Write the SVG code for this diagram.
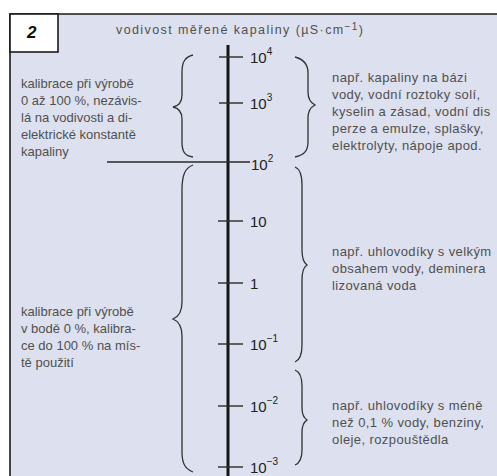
<svg xmlns="http://www.w3.org/2000/svg" width="497" height="476" viewBox="0 0 497 476">
<style>
.bg{fill:#dde0ee}
.frame{fill:none;stroke:#1a1a1a;stroke-width:1.6}
.txt{font-family:"Liberation Sans",Arial,sans-serif;font-size:13px;fill:#505050}
.rt{letter-spacing:0.4px}
.ttl{font-family:"Liberation Sans",Arial,sans-serif;font-size:12.5px;fill:#505050}
.lbl{font-family:"Liberation Sans",Arial,sans-serif;font-size:15px;fill:#222}
.sup{font-size:10px}
.axis{stroke:#151515;stroke-width:3}
.tick{stroke:#2a2a2a;stroke-width:1.4}
.brace{fill:none;stroke:#333;stroke-width:1.3}
</style>
<rect class="bg" x="10" y="14" width="487" height="462"/>
<path class="frame" d="M10,476 V14 H497"/>
<g id="badge">
<rect x="10" y="14" width="48" height="38" fill="#fff" stroke="#1a1a1a" stroke-width="1.6"/>
<text x="27" y="38" font-family="Liberation Sans,Arial,sans-serif" font-size="17" font-weight="bold" font-style="italic" fill="#111">2</text>
</g>
<g id="title"><text class="ttl" x="116" y="34" textLength="247" lengthAdjust="spacing">vodivost měřené kapaliny (µS·cm<tspan class="sup" dy="-4">−1</tspan><tspan dy="4">)</tspan></text></g>
<g id="axis">
<line class="axis" x1="228" y1="45" x2="228" y2="476"/>
<line class="tick" x1="219" y1="57" x2="243" y2="57"/>
<line class="tick" x1="219" y1="103" x2="243" y2="103"/>
<line class="tick" x1="107" y1="162" x2="250" y2="162"/>
<line class="tick" x1="218" y1="221" x2="243" y2="221"/>
<line class="tick" x1="218" y1="283" x2="243" y2="283"/>
<line class="tick" x1="218" y1="344" x2="243" y2="344"/>
<line class="tick" x1="218" y1="406" x2="243" y2="406"/>
<line class="tick" x1="218" y1="467" x2="243" y2="467"/>
<text class="lbl" x="250" y="63">10<tspan class="sup" dy="-8">4</tspan></text>
<text class="lbl" x="250" y="109">10<tspan class="sup" dy="-8">3</tspan></text>
<text class="lbl" x="251" y="170">10<tspan class="sup" dy="-8">2</tspan></text>
<text class="lbl" x="250" y="227">10</text>
<text class="lbl" x="250" y="289">1</text>
<text class="lbl" x="250" y="350">10<tspan class="sup" dy="-8">−1</tspan></text>
<text class="lbl" x="250" y="412">10<tspan class="sup" dy="-8">−2</tspan></text>
<text class="lbl" x="250" y="473">10<tspan class="sup" dy="-8">−3</tspan></text>
</g>
<g id="braces">
<path class="brace" d="M193,55 C185,57 182,62 182,72 L182,95 C182,103 178,106 173,107 C178,108 182,111 182,119 L182,142 C182,152 185,156 193,157"/>
<path class="brace" d="M193,165 C185,168 182,175 182,190 L182,302 C182,313 178,317 173,319 C178,321 182,325 182,336 L182,452 C182,465 186,469 193,472"/>
<path class="brace" d="M295,57 C303,59 308,63 308,73 L308,92 C308,100 311,103 315,105 C311,107 308,110 308,118 L308,142 C308,151 304,155 295,157"/>
<path class="brace" d="M295,167 C300,169 302,175 302,185 L302,250 C302,259 304,263 307,265 C304,267 302,271 302,280 L302,345 C302,355 300,360 295,362"/>
<path class="brace" d="M295,370 C300,372 302,377 302,386 L302,408 C302,415 304,418 307,420 C304,422 302,425 302,432 L302,450 C302,459 300,463 295,465"/>
</g>
<g id="note-left-top"><text class="txt"><tspan x="21" y="88">kalibrace při výrobě</tspan><tspan x="21" y="105">0 až 100 %, nezávis-</tspan><tspan x="21" y="122">lá na vodivosti a di-</tspan><tspan x="21" y="139">elektrické konstantě</tspan><tspan x="21" y="156">kapaliny</tspan></text></g>
<g id="note-left-bottom"><text class="txt"><tspan x="21" y="316">kalibrace při výrobě</tspan><tspan x="21" y="333">v bodě 0 %, kalibra-</tspan><tspan x="21" y="350">ce do 100 % na mís-</tspan><tspan x="21" y="367">tě použití</tspan></text></g>
<g id="note-right-top"><text class="txt rt"><tspan x="332" y="82">např. kapaliny na bázi</tspan><tspan x="332" y="99">vody, vodní roztoky solí,</tspan><tspan x="332" y="116">kyselin a zásad, vodní dis</tspan><tspan x="332" y="133">perze a emulze, splašky,</tspan><tspan x="332" y="150">elektrolyty, nápoje apod.</tspan></text></g>
<g id="note-right-mid"><text class="txt rt"><tspan x="332" y="256">např. uhlovodíky s velkým</tspan><tspan x="332" y="273">obsahem vody, deminera</tspan><tspan x="332" y="290">lizovaná voda</tspan></text></g>
<g id="note-right-bottom"><text class="txt rt"><tspan x="332" y="410">např. uhlovodíky s méně</tspan><tspan x="332" y="427">než 0,1 % vody, benziny,</tspan><tspan x="332" y="444">oleje, rozpouštědla</tspan></text></g>
</svg>
